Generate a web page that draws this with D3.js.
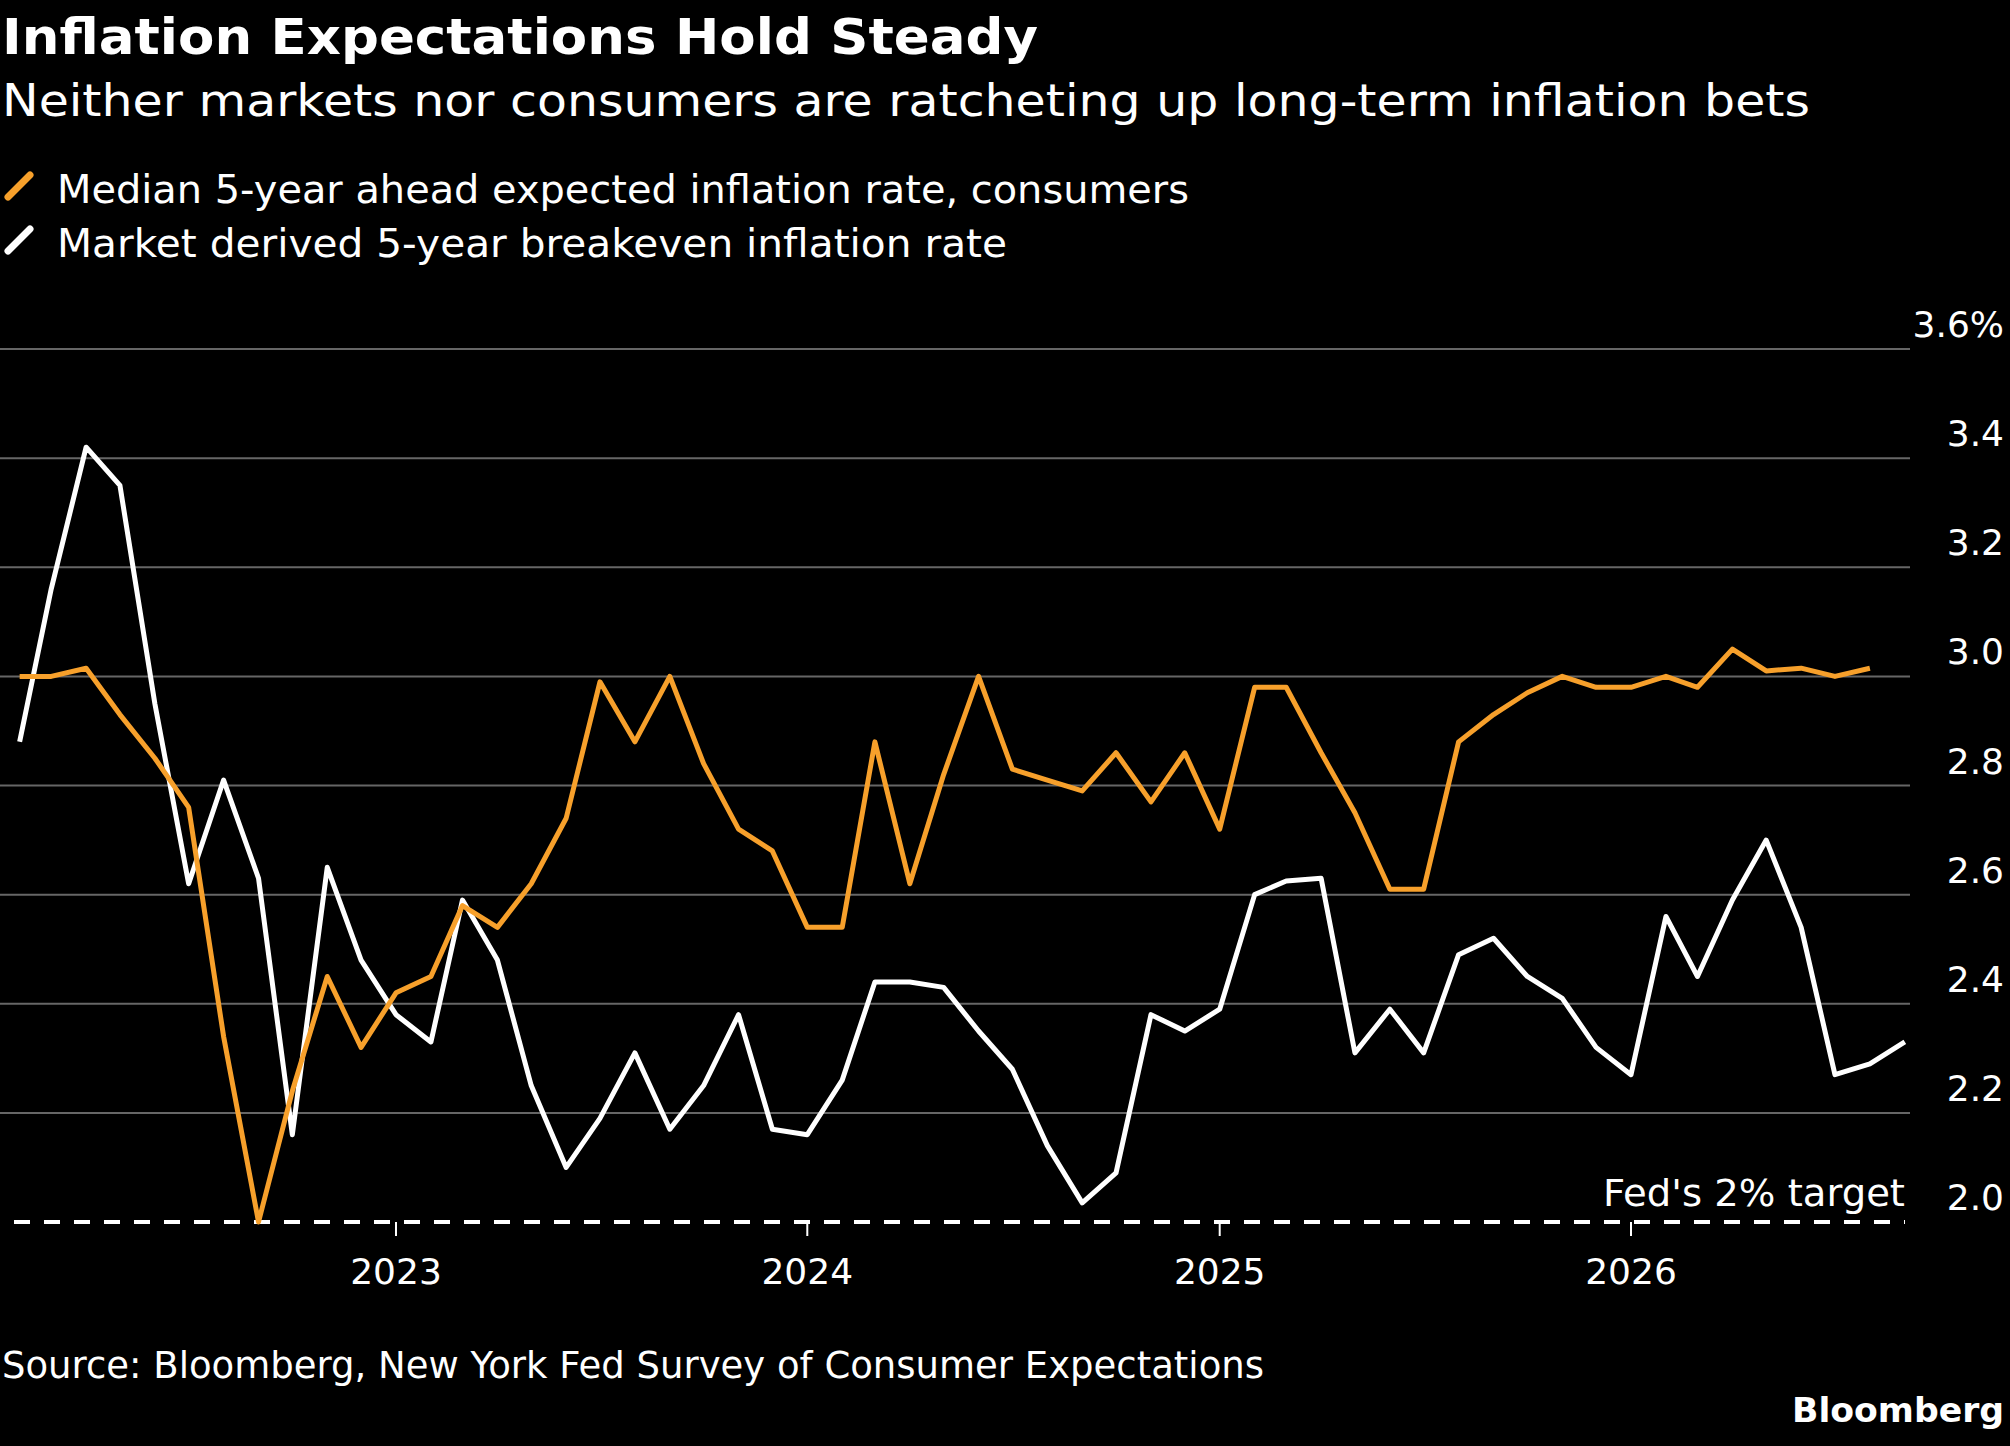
<!DOCTYPE html>
<html><head><meta charset="utf-8">
<script src="https://cdn.jsdelivr.net/npm/d3@7"></script>
<style>body{margin:0;background:#000;}svg{display:block;font-family:"DejaVu Sans",sans-serif;}</style>
</head><body><svg id="c" width="2010" height="1446"></svg>
<script>
const consumers = [3.0,3.0,3.015,2.93,2.85,2.76,2.34,2.0,2.24,2.45,2.32,2.42,2.45,2.58,2.54,2.62,2.74,2.99,2.88,3.0,2.84,2.72,2.68,2.54,2.54,2.88,2.62,2.82,3.0,2.83,2.81,2.79,2.86,2.77,2.86,2.72,2.98,2.98,2.86,2.75,2.61,2.61,2.88,2.93,2.97,3.0,2.98,2.98,3.0,2.98,3.05,3.01,3.015,3.0,3.015];
const breakeven = [2.88,3.16,3.42,3.35,2.95,2.62,2.81,2.63,2.16,2.65,2.48,2.38,2.33,2.59,2.48,2.25,2.10,2.19,2.31,2.17,2.25,2.38,2.17,2.16,2.26,2.44,2.44,2.43,2.35,2.28,2.14,2.035,2.09,2.38,2.35,2.39,2.60,2.625,2.63,2.31,2.39,2.31,2.49,2.52,2.45,2.41,2.32,2.27,2.56,2.45,2.59,2.70,2.54,2.27,2.29,2.33];
const yTicks = [2.0,2.2,2.4,2.6,2.8,3.0,3.2,3.4,3.6];
const xTicks = ["2023","2024","2025","2026"];

const svg = d3.select("#c");
const x = d3.scaleTime().domain([new Date(2023,0,1), new Date(2026,0,1)]).range([396,1631]);
const y = d3.scaleLinear().domain([2.0,3.6]).range([1222,349]);
const dt = i => new Date(2022,1+i,1);

function txt(xx,yy,s,size,opt={}){
  const t=svg.append("text").attr("x",xx).attr("y",yy).attr("fill","#fff").attr("font-size",size).text(s);
  if(opt.bold) t.attr("font-weight",700);
  if(opt.anchor) t.attr("text-anchor",opt.anchor);
  if(opt.len) t.attr("textLength",opt.len).attr("lengthAdjust","spacingAndGlyphs");
  return t;
}
txt(2,54,"Inflation Expectations Hold Steady",50,{bold:true,len:1036});
txt(2,116,"Neither markets nor consumers are ratcheting up long-term inflation bets",45,{len:1808});
const leg=[["#f7a02b","Median 5-year ahead expected inflation rate, consumers",203,1132],["#fff","Market derived 5-year breakeven inflation rate",257,950]];
leg.forEach(([c,t,yy,l])=>{
  svg.append("line").attr("x1",8).attr("x2",30).attr("y1",yy-6).attr("y2",yy-28).attr("stroke",c).attr("stroke-width",7).attr("stroke-linecap","round");
  txt(57,yy,t,39,{len:l});
});

yTicks.forEach(v=>{
  if(v>2.0) svg.append("line").attr("x1",0).attr("x2",1910).attr("y1",y(v)).attr("y2",y(v)).attr("stroke","#666").attr("stroke-width",2);
  txt(2004,y(v)-12,v.toFixed(1)+(v===3.6?"%":""),36,{anchor:"end"});
});
svg.append("line").attr("x1",14).attr("x2",1905).attr("y1",y(2.0)).attr("y2",y(2.0)).attr("stroke","#fff").attr("stroke-width",4).attr("stroke-dasharray","16,14");
txt(1905,1206,"Fed's 2% target",38,{anchor:"end",len:302});

xTicks.forEach(t=>{
  const xx=x(new Date(+t,0,1));
  svg.append("line").attr("x1",xx).attr("x2",xx).attr("y1",1222).attr("y2",1236).attr("stroke","#fff").attr("stroke-width",2);
  txt(xx,1284,t,36,{anchor:"middle"});
});

const line = d3.line().x((d,i)=>x(dt(i))).y(d=>y(d));
svg.append("path").datum(breakeven).attr("d",line).attr("fill","none").attr("stroke","#fff").attr("stroke-width",5).attr("stroke-linejoin","round");
svg.append("path").datum(consumers).attr("d",line).attr("fill","none").attr("stroke","#f7a02b").attr("stroke-width",5).attr("stroke-linejoin","round");

txt(2,1378,"Source: Bloomberg, New York Fed Survey of Consumer Expectations",38,{len:1262});
txt(2004,1422,"Bloomberg",34,{anchor:"end",bold:true,len:212});
</script></body></html>
